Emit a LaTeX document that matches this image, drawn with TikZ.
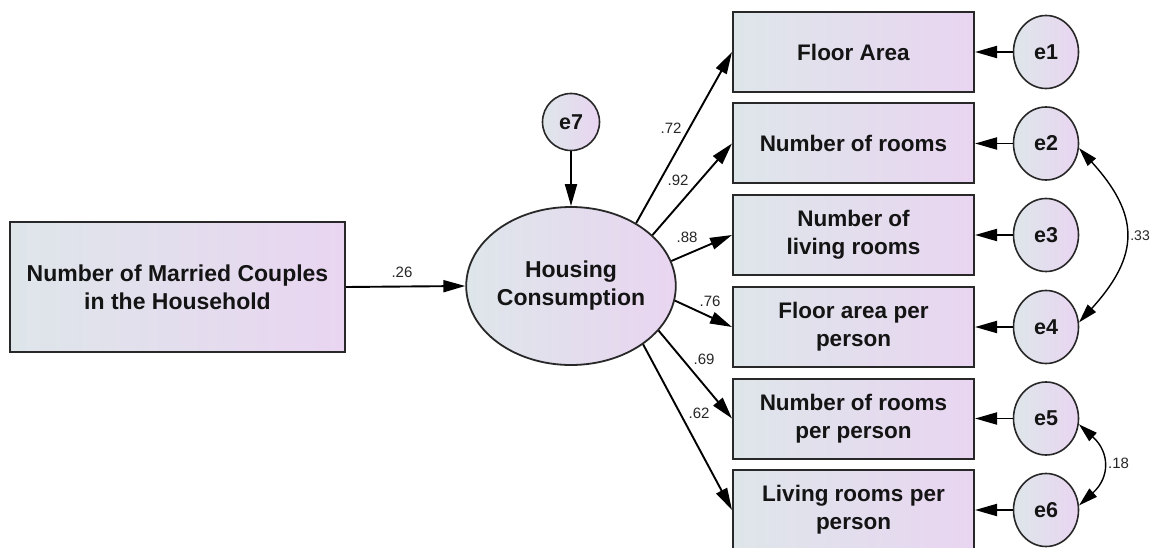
\documentclass[tikz,border=0pt]{standalone}
\usepackage{fontspec}
\setmainfont{Liberation Sans}
\usetikzlibrary{arrows.meta,shapes.geometric}
\definecolor{shL}{RGB}{222,230,234}
\definecolor{shR}{RGB}{233,213,241}
\definecolor{edgec}{RGB}{40,40,40}
\tikzset{
  obs/.style={draw=edgec, line width=2pt, left color=shL, right color=shR,
    minimum width=241pt, minimum height=80pt, align=center, inner sep=0pt,
    font=\fontsize{22.5}{28}\selectfont\bfseries, text=black!92},
  latent/.style={ellipse, draw=edgec, line width=1.8pt, left color=shL, right color=shR,
    align=center, inner sep=0pt, font=\fontsize{23}{28}\selectfont\bfseries, text=black!92},
  err/.style={ellipse, draw=edgec, line width=1.6pt, left color=shL, right color=shR,
    minimum width=65pt, minimum height=73pt, inner sep=0pt,
    font=\fontsize{21.5}{25}\selectfont\bfseries, text=black!92},
  regarrow/.style={line width=1.9pt, -{Triangle[length=22pt,width=12pt]}},
  cov/.style={line width=1.4pt, {Triangle[length=19pt,width=11pt]}-{Triangle[length=19pt,width=11pt]}},
  coef/.style={font=\fontsize{15}{18}\selectfont, text=black!85, inner sep=0pt},
}
\begin{document}
\begin{tikzpicture}[x=1pt,y=-1pt]
\useasboundingbox (0,0) rectangle (1151,548);
\clip (0,0) rectangle (1151,548);
\fill[white] (0,0) rectangle (1151,548);

% exogenous observed
\node[obs, minimum width=335pt, minimum height=130pt, font=\fontsize{23}{28}\selectfont\bfseries] (x) at (177.5,287) {Number of Married Couples\\in the Household};

% latent
\node[latent, minimum width=192pt, minimum height=158pt] (hc) at (571,286) {Housing\\Consumption};
\node[err, minimum width=57pt, minimum height=57pt] (e7) at (571,122) {e7};

% indicators
\node[obs] (b1) at (853.5,52) {Floor Area};
\node[obs] (b2) at (853.5,143.5) {Number of rooms};
\node[obs] (b3) at (853.5,235) {Number of\\living rooms};
\node[obs] (b4) at (853.5,327) {Floor area per\\person};
\node[obs] (b5) at (853.5,418.5) {Number of rooms\\per person};
\node[obs] (b6) at (853.5,510) {Living rooms per\\person};

% errors
\node[err] (e1) at (1046,52) {e1};
\node[err] (e2) at (1046,143.5) {e2};
\node[err] (e3) at (1046,235) {e3};
\node[err] (e4) at (1046,327) {e4};
\node[err] (e5) at (1046,418.5) {e5};
\node[err] (e6) at (1046,510) {e6};

% structural paths
\draw[regarrow] (x.east) -- (hc.west);
\node[coef] (l26) at (402,272) {.26};
\draw[regarrow] (e7) -- (hc);

% loadings
\draw[regarrow] (hc.44) -- (b1.west);
\draw[regarrow] (hc.32) -- (b2.west);
\draw[regarrow] (hc.14) -- (b3.west);
\draw[regarrow] (hc.-8.5) -- (b4.west);
\draw[regarrow] (hc.-27) -- (b5.west);
\draw[regarrow] (hc.-39) -- (b6.west);
\node[coef] (l72) at (671,128) {.72};
\node[coef] (l92) at (678,180) {.92};
\node[coef] (l88) at (687,237) {.88};
\node[coef] (l76) at (710,301) {.76};
\node[coef] (l69) at (704,359) {.69};
\node[coef] (l62) at (699,413) {.62};

% error paths
\foreach \i in {1,...,6} {
  \draw[regarrow] (e\i.west) -- (b\i.east);
}

% covariances
\draw[cov] (e2.-8) .. controls +(61,67) and +(61,-67) .. (e4.8);
\node[coef, anchor=east, font=\fontsize{14}{16}\selectfont] (l33) at (1150,236) {.33};
\draw[cov] (e5.-10) .. controls +(31,28) and +(31,-28) .. (e6.8);
\node[coef, anchor=west] (l18) at (1108,463) {.18};
\end{tikzpicture}
\end{document}
